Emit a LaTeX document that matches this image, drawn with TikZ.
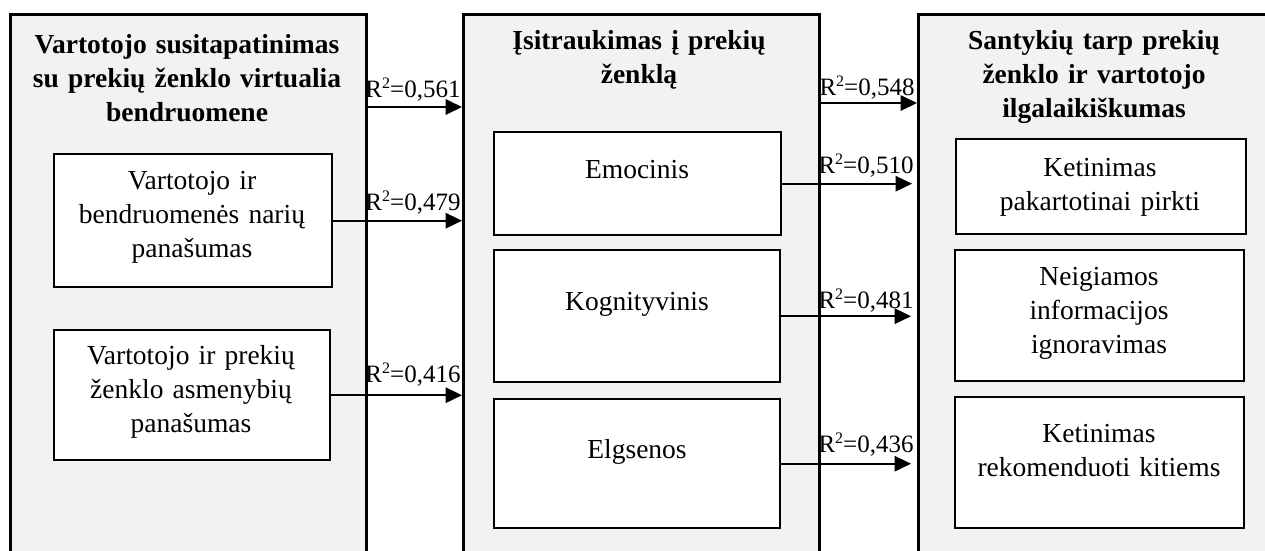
\documentclass[tikz,border=0pt]{standalone}
\usepackage{fontspec}
\setmainfont{Liberation Serif}
\usetikzlibrary{arrows.meta}
\definecolor{panelgray}{HTML}{F2F2F2}
% small raised "2" for the R-squared labels
\newcommand\rsq{\raisebox{0.36em}{\fontsize{16}{16}\selectfont 2}}
\begin{document}
\begin{tikzpicture}[x=1pt,y=-1pt,
  outerbox/.style={draw=black,line width=2.6pt,fill=panelgray,anchor=north west,inner sep=0pt},
  innerbox/.style={draw=black,line width=2.4pt,fill=white,anchor=north west,inner sep=0pt},
  titletext/.style={anchor=base,inner sep=0pt,text width=340pt,align=center,font=\bfseries\fontsize{27.5}{34}\selectfont},
  bodytext/.style={anchor=base,inner sep=0pt,text width=300pt,align=center,font=\fontsize{27.5}{34}\selectfont},
  rlabel/.style={anchor=base,inner sep=0pt,font=\fontsize{25}{30}\selectfont},
  link/.style={line width=1.8pt,-{Triangle[length=16.5pt,width=15.5pt]}}
]
\useasboundingbox (0,0) rectangle (1265,550);
\clip (0,0) rectangle (1265,550);

% three large panels (they run past the lower edge)
\node[outerbox,minimum width=356pt,minimum height=560pt] (L) at (9,13) {};
\node[outerbox,minimum width=356pt,minimum height=560pt] (M) at (462,13) {};
\node[outerbox,minimum width=354pt,minimum height=560pt] (R) at (917,13) {};

% panel titles
\node[titletext] (Lt) at (187,53) {Vartotojo susitapatinimas\\su prekių ženklo virtualia\\bendruomene};
\node[titletext] (Mt) at (639,49) {Įsitraukimas į prekių\\ženklą};
\node[titletext] (Rt) at (1094,49) {Santykių tarp prekių\\ženklo ir vartotojo\\ilgalaikiškumas};

% inner boxes
\node[innerbox,minimum width=278pt,minimum height=133pt] (vb1) at (53,153) {};
\node[innerbox,minimum width=276pt,minimum height=130pt] (vb2) at (53,329) {};
\node[innerbox,minimum width=287pt,minimum height=103pt] (emo) at (493,131) {};
\node[innerbox,minimum width=286pt,minimum height=132pt] (kog) at (493,249) {};
\node[innerbox,minimum width=286pt,minimum height=129pt] (elg) at (493,398) {};
\node[innerbox,minimum width=290pt,minimum height=95pt] (rep) at (955,138) {};
\node[innerbox,minimum width=289pt,minimum height=131pt] (neg) at (954,249) {};
\node[innerbox,minimum width=289pt,minimum height=131pt] (rec) at (954,396) {};

% inner box texts
\node[bodytext] (vb1t) at (192,189) {Vartotojo ir\\bendruomenės narių\\panašumas};
\node[bodytext] (vb2t) at (191,364) {Vartotojo ir prekių\\ženklo asmenybių\\panašumas};
\node[bodytext] (emot) at (637,178) {Emocinis};
\node[bodytext] (kogt) at (637,310) {Kognityvinis};
\node[bodytext] (elgt) at (637,458) {Elgsenos};
\node[bodytext] (rept) at (1100,176) {Ketinimas\\pakartotinai pirkti};
\node[bodytext] (negt) at (1099,285) {Neigiamos\\informacijos\\ignoravimas};
\node[bodytext] (rect) at (1099,442) {Ketinimas\\rekomenduoti kitiems};

% connectors
\coordinate (y561) at (0,107);
\coordinate (y548) at (0,103);
\draw[link] (L.east |- y561) -- (M.west |- y561);
\draw[link] (vb1.east) -- (vb1.east -| M.west);
\draw[link] (vb2.east) -- (vb2.east -| M.west);
\draw[link] (M.east |- y548) -- (R.west |- y548);
\draw[link,shorten >=5pt] (emo.east) -- (emo.east -| R.west);
\draw[link,shorten >=6pt] (kog.east) -- (kog.east -| R.west);
\draw[link,shorten >=6pt] (elg.east) -- (elg.east -| R.west);

% R-squared labels
\node[rlabel] (l561) at (413,97) {R\rsq=0,561};
\node[rlabel] (l479) at (413,210) {R\rsq=0,479};
\node[rlabel] (l416) at (413,382) {R\rsq=0,416};
\node[rlabel] (l548) at (867,95) {R\rsq=0,548};
\node[rlabel] (l510) at (866,173) {R\rsq=0,510};
\node[rlabel] (l481) at (866,308) {R\rsq=0,481};
\node[rlabel] (l436) at (866,452) {R\rsq=0,436};
\end{tikzpicture}
\end{document}
